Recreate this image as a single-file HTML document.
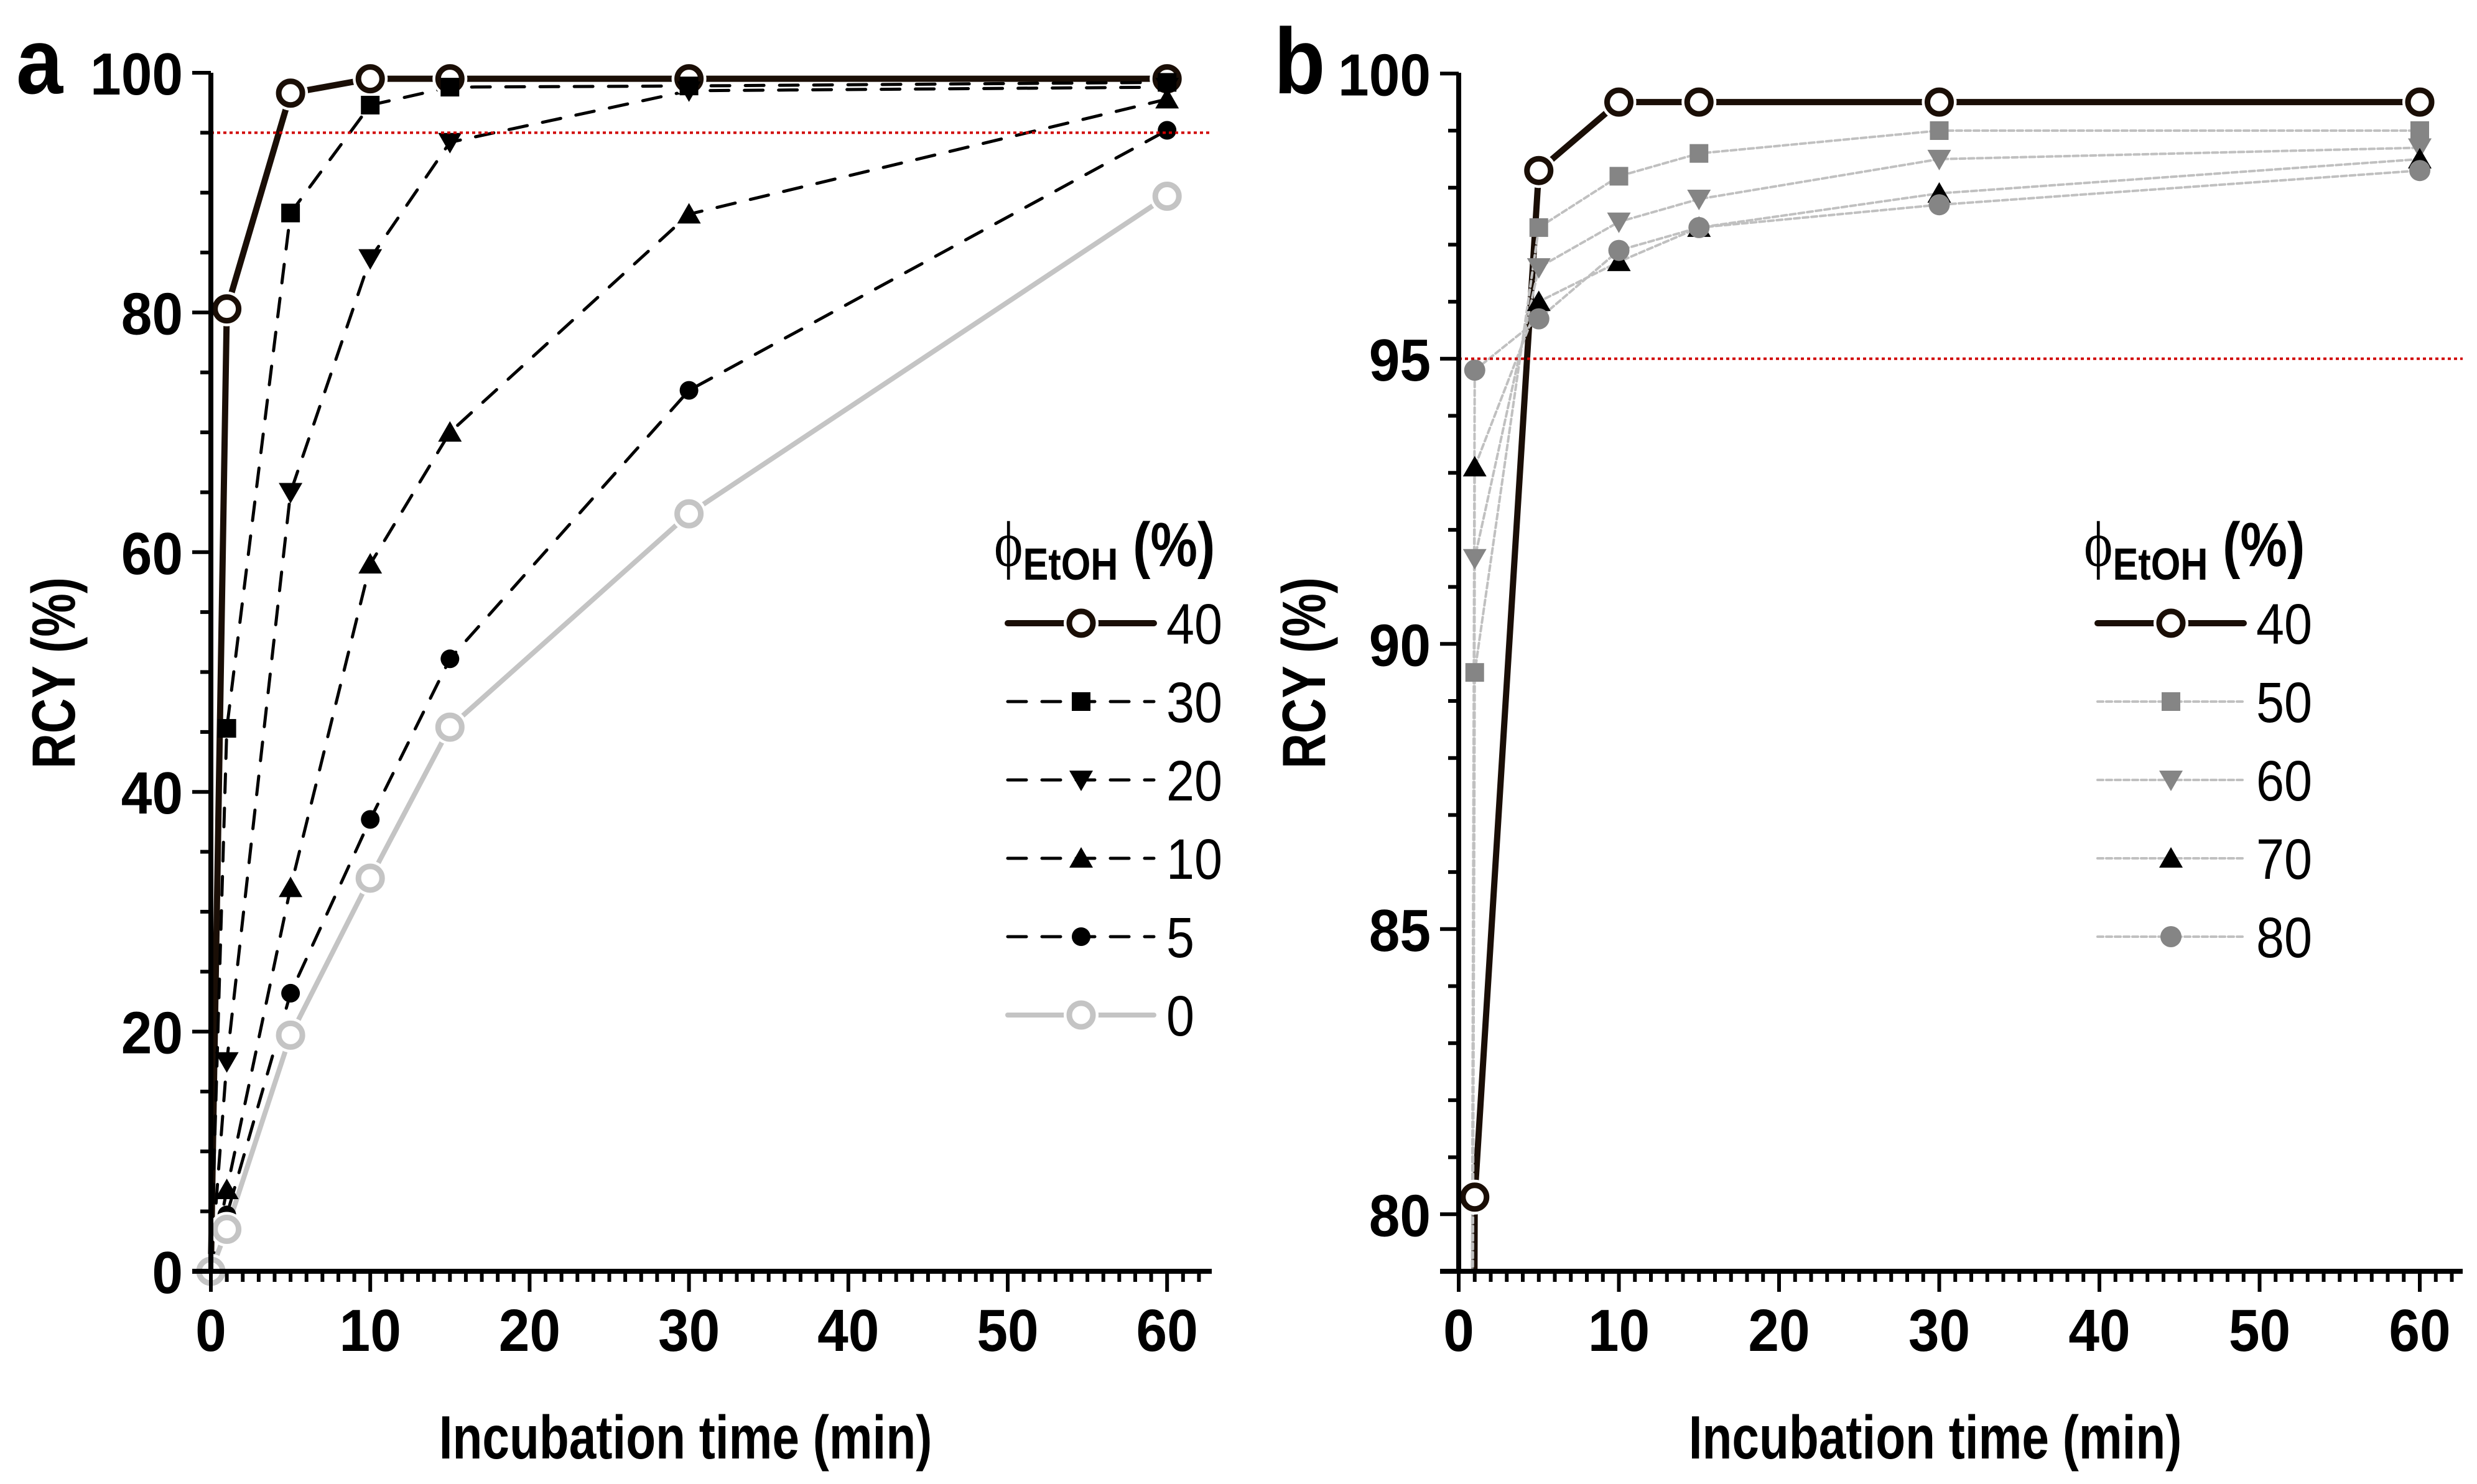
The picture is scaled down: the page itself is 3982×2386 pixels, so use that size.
<!DOCTYPE html>
<html><head><meta charset="utf-8"><style>
html,body{margin:0;padding:0;background:#fff;width:3982px;height:2386px;overflow:hidden}
svg{display:block}
text{font-family:"Liberation Sans Narrow","Liberation Sans",sans-serif}
.tk{font-weight:bold;font-size:96px}
.ax{font-weight:bold;font-size:98px}
.lg{font-size:92px}
</style></head><body>
<svg id="chart" width="3982" height="2386" viewBox="0 0 3982 2386" xmlns="http://www.w3.org/2000/svg">
<defs><clipPath id="clipB"><rect x="2300" y="60" width="1700" height="1984"/></clipPath></defs>
<g id="pa"></g>
<g id="pb"></g>
</svg>
<script>
const timesA = [0, 1, 5, 10, 15, 30, 60];
const seriesA_labels = ["40", "30", "20", "10", "5", "0"];
const seriesA40 = [0, 80.3, 98.3, 99.5, 99.5, 99.5, 99.5];
const seriesA30 = [0, 45.3, 88.3, 97.3, 98.8, 98.9, 99.2];
const seriesA20 = [0, 17.5, 65.0, 84.5, 94.2, 98.5, 98.8];
const seriesA10 = [0, 6.8, 32.0, 59.0, 70.0, 88.2, 97.8];
const seriesA5 = [0, 4.7, 23.2, 37.7, 51.1, 73.5, 95.2];
const seriesA0 = [0, 3.5, 19.7, 32.8, 45.4, 63.2, 89.7];
const xTicksA = [0, 10, 20, 30, 40, 50, 60];
const yTicksA = [0, 20, 40, 60, 80, 100];

const timesB = [0, 1, 5, 10, 15, 30, 60];
const seriesB_labels = ["40", "50", "60", "70", "80"];
const seriesB40 = [0, 80.3, 98.3, 99.5, 99.5, 99.5, 99.5];
const seriesB50 = [0, 89.5, 97.3, 98.2, 98.6, 99.0, 99.0];
const seriesB60 = [0, 91.5, 96.6, 97.4, 97.8, 98.5, 98.7];
const seriesB70 = [0, 93.1, 96.0, 96.7, 97.3, 97.9, 98.5];
const seriesB80 = [0, 94.8, 95.7, 96.9, 97.3, 97.7, 98.3];
const xTicksB = [0, 10, 20, 30, 40, 50, 60];
const yTicksB = [80, 85, 90, 95, 100];
const threshold = 95;

const NS = "http://www.w3.org/2000/svg";
function mk(parent, tag, attrs, txt){const e=document.createElementNS(NS,tag);for(const k in attrs)e.setAttribute(k,attrs[k]);if(txt!==undefined)e.textContent=txt;parent.appendChild(e);return e;}
function txt(parent, x, y, s, attrs, content, rot){
  const a=Object.assign({x:0,y:0,transform:`translate(${x},${y})${rot?' rotate(-90)':''} scale(${s},1)`},attrs);
  return mk(parent,"text",a,content);
}

function marker(g, type, x, y, s){
  let e;
  if(type==="ocircle"){
    mk(g,"circle",{cx:x,cy:y,r:28,fill:"#fff"});
    e=mk(g,"circle",{cx:x,cy:y,r:s.r||19,fill:"#fff",stroke:s.c,"stroke-width":9});
  } else if(type==="square"){
    e=mk(g,"rect",{x:x-15,y:y-15,width:30,height:30,fill:s.c});
  } else if(type==="tdown"){
    e=mk(g,"polygon",{points:`${x-19},${y-15} ${x+19},${y-15} ${x},${y+18}`,fill:s.c});
  } else if(type==="tup"){
    e=mk(g,"polygon",{points:`${x-19},${y+15} ${x+19},${y+15} ${x},${y-18}`,fill:s.c});
  } else {
    e=mk(g,"circle",{cx:x,cy:y,r:s.r||15,fill:s.c});
  }
  
  
  return e;
}

function drawPanel(g, cfg){
  const X=v=>cfg.x0+(v-cfg.xmin)*cfg.xs, Y=v=>cfg.y0-(v-cfg.ymin)*cfg.ys;
  const sg=mk(g,"g",cfg.clip?{"clip-path":"url(#clipB)"}:{});
  cfg.series.forEach(s=>{
    const pts=cfg.times.map((t,i)=>X(t)+","+Y(s.vals[i])).join(" ");
    const l=mk(sg,"polyline",{points:pts,fill:"none",stroke:s.lc,"stroke-width":s.lw,"stroke-dasharray":s.dash||"none","stroke-linecap":"round","stroke-linejoin":"round"});
    
    
  });
  cfg.series.forEach(s=>{
    cfg.times.forEach((t,i)=>{ if(Y(s.vals[i])<=cfg.y0+5) marker(sg,s.m,X(t),Y(s.vals[i]),s); });
  });
  const th=mk(g,"line",{x1:cfg.axX,x2:cfg.xend,y1:Y(threshold),y2:Y(threshold),stroke:"#d00000","stroke-width":4,"stroke-dasharray":"5 5"});
  
  
  const ya=mk(g,"line",{x1:cfg.axX,x2:cfg.axX,y1:cfg.ytop,y2:cfg.y0,stroke:"#000","stroke-width":8});
  
  
  const xa=mk(g,"line",{x1:cfg.axX-30,x2:cfg.xend,y1:cfg.y0,y2:cfg.y0,stroke:"#000","stroke-width":8});
  
  
  for(let m=0;X(m)<=cfg.xend;m+=1){
    const major=m%10===0;
    mk(g,"line",{x1:X(m),x2:X(m),y1:cfg.y0,y2:cfg.y0+(major?33:17),stroke:"#000","stroke-width":6});
  }
  for(let v=cfg.ymin;v<=cfg.ymax+0.001;v+=cfg.yminor){
    const major=cfg.yTicks.some(t=>Math.abs(t-v)<0.001);
    mk(g,"line",{x1:cfg.axX,x2:cfg.axX-(major?30:17),y1:Y(v),y2:Y(v),stroke:"#000","stroke-width":6});
  }
  cfg.xTicks.forEach(t=>{
    const e=txt(g,X(t),cfg.y0+128,0.93,{"text-anchor":"middle",class:"tk"},t);
    
    
  });
  cfg.yTicks.forEach(t=>{
    const e=txt(g,cfg.axX-45,Y(t)+35,0.93,{"text-anchor":"end",class:"tk"},t);
    
    
  });
  const xt=txt(g,cfg.xTitleX,2345,0.8,{"text-anchor":"middle",class:"ax"},"Incubation time (min)");
  
  
  const yt=txt(g,cfg.yTitleX,1082,0.8,{"text-anchor":"middle",class:"ax"},"RCY (%)",true);
  
  
  const pl=txt(g,cfg.panelX,150,0.9,{style:"font-family:'Liberation Sans',sans-serif;font-weight:bold;font-size:150px"},cfg.panel);
  
  
  const lg=mk(g,"g",{});
  
  
  const tt=txt(lg,cfg.lx-22,cfg.ly-92,0.85,{style:"font-weight:bold;font-size:100px"});
  mk(tt,"tspan",{style:"font-family:'Liberation Serif',serif;font-weight:normal;font-size:104px"},"ϕ");
  mk(tt,"tspan",{dy:22,style:"font-size:72px"},"EtOH");
  mk(tt,"tspan",{dy:-22},"\u00a0(%)");
  cfg.series.forEach((s,i)=>{
    const y=cfg.ly+i*126;
    const e=mk(lg,"g",{});
    
    
    mk(e,"line",{x1:cfg.lx,x2:cfg.lx+235,y1:y,y2:y,stroke:s.lc,"stroke-width":s.lw,"stroke-dasharray":s.dash||"none","stroke-linecap":"round"});
    marker(e,s.m,cfg.lx+118,y,s);
    txt(e,cfg.lx+255,y+33,0.88,{class:"lg"},s.label);
  });
}

const dashA="30 25";
drawPanel(document.getElementById("pa"),{
  x0:339,xmin:0,xs:25.62,y0:2044,ymin:0,ymax:100,ys:19.27,yminor:5,ytop:117,axX:339,xend:1948,
  times:timesA,xTicks:xTicksA,yTicks:yTicksA,xTitleX:1102,yTitleX:120,panelX:26,panel:"a",
  lx:1620,ly:1002,
  series:[
    {label:seriesA_labels[0],vals:seriesA40,lc:"#1a0e06",c:"#1a0e06",lw:10,m:"ocircle"},
    {label:seriesA_labels[1],vals:seriesA30,lc:"#000",c:"#000",lw:5,dash:dashA,m:"square"},
    {label:seriesA_labels[2],vals:seriesA20,lc:"#000",c:"#000",lw:5,dash:dashA,m:"tdown"},
    {label:seriesA_labels[3],vals:seriesA10,lc:"#000",c:"#000",lw:5,dash:dashA,m:"tup"},
    {label:seriesA_labels[4],vals:seriesA5,lc:"#000",c:"#000",lw:5,dash:dashA,m:"dot"},
    {label:seriesA_labels[5],vals:seriesA0,lc:"#c4c4c4",c:"#c4c4c4",lw:8,m:"ocircle"}
  ]
});
const dashB="9 5";
drawPanel(document.getElementById("pb"),{
  x0:2345,xmin:0,xs:25.75,y0:2044,ymin:79,ymax:100,ys:91.7,yminor:1,ytop:117,axX:2345,xend:3959,
  times:timesB,xTicks:xTicksB,yTicks:yTicksB,xTitleX:3111,yTitleX:2130,panelX:2048,panel:"b",clip:true,
  lx:3372,ly:1002,
  series:[
    {label:seriesB_labels[0],vals:seriesB40,lc:"#1a0e06",c:"#1a0e06",lw:10,m:"ocircle"},
    {label:seriesB_labels[1],vals:seriesB50,lc:"#c0c0c0",c:"#858585",lw:4,dash:dashB,m:"square"},
    {label:seriesB_labels[2],vals:seriesB60,lc:"#c0c0c0",c:"#858585",lw:4,dash:dashB,m:"tdown"},
    {label:seriesB_labels[3],vals:seriesB70,lc:"#c0c0c0",c:"#000",lw:4,dash:dashB,m:"tup"},
    {label:seriesB_labels[4],vals:seriesB80,lc:"#c0c0c0",c:"#858585",lw:4,dash:dashB,m:"dot",r:17}
  ]
});
</script>
</body></html>
